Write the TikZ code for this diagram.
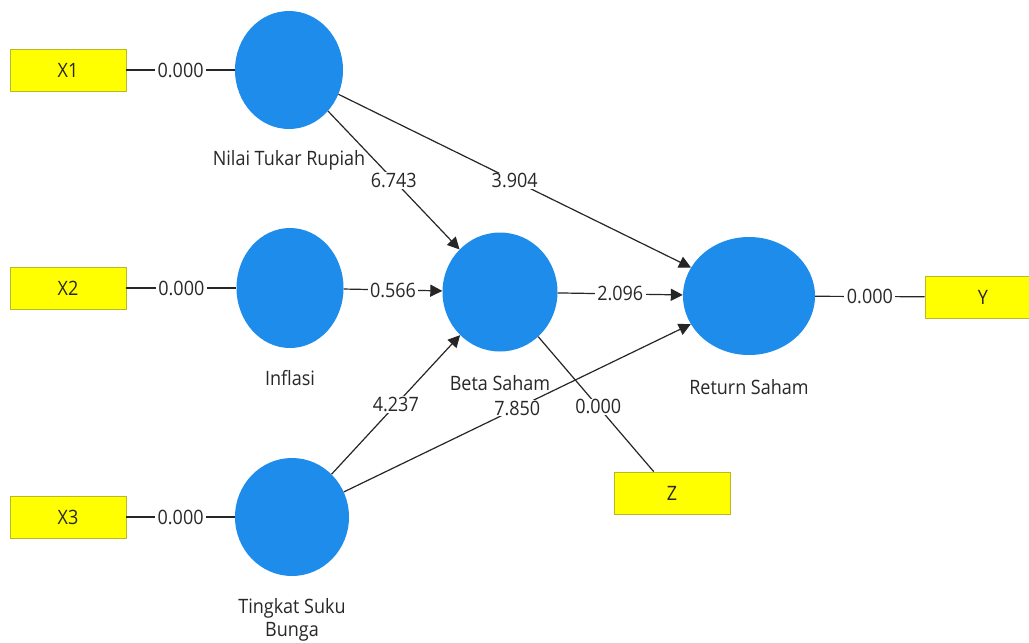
\documentclass[tikz,border=0pt]{standalone}
\usepackage{fontspec}
\setmainfont{Open Sans}
\usepackage{graphicx}
\usetikzlibrary{shapes.geometric,arrows.meta}
\definecolor{lvblue}{RGB}{30,140,235}
\definecolor{mvyellow}{RGB}{255,255,0}
\definecolor{mvborder}{RGB}{185,185,40}
\definecolor{txtgray}{RGB}{40,40,40}
\newcommand{\stxt}[1]{\scalebox{1}[1.1]{#1}}
\begin{document}
\begin{tikzpicture}[x=1pt,y=-1pt,
  latent/.style={ellipse, fill=lvblue, draw=none, inner sep=0pt},
  manifest/.style={rectangle, fill=mvyellow, draw=mvborder, line width=0.8pt,
    minimum width=116pt, minimum height=42pt, inner sep=0pt, text=txtgray,
    font=\fontsize{18}{21}\selectfont},
  lbl/.style={text=txtgray, font=\fontsize{18}{21}\selectfont, inner sep=0pt},
  conn/.style={draw=black!85, line width=1.2pt},
  arr/.style={conn, -{Triangle[length=12pt,width=12pt]}},
  val/.style={fill=white, text=txtgray, font=\fontsize{18}{21}\selectfont,
    inner xsep=2.5pt, inner ysep=1pt, pos=0.5}
]
\useasboundingbox (0,0) rectangle (1029,643);
\clip (0,0) rectangle (1029,643);
\fill[white] (0,0) rectangle (1029,643);

% manifest variables
\node[manifest] (x1) at (68,70) {\stxt{X1}};
\node[manifest] (x2) at (68,288) {\stxt{X2}};
\node[manifest] (x3) at (68,517) {\stxt{X3}};
\node[manifest] (yy) at (983,297) {\stxt{Y}};
\node[manifest] (zz) at (672,493) {\stxt{Z}};

% latent variables
\node[latent, minimum width=108pt, minimum height=118pt] (nilai) at (289,70) {};
\node[latent, minimum width=107pt, minimum height=120pt] (infl) at (290,288) {};
\node[latent, minimum width=114pt, minimum height=118pt] (ting) at (292,517) {};
\node[latent, minimum width=115pt, minimum height=119pt] (beta) at (500,292) {};
\node[latent, minimum width=132pt, minimum height=118pt] (ret) at (749,296) {};

% latent labels
\node[lbl] (lnilai) at (289,160) {\stxt{Nilai Tukar Rupiah}};
\node[lbl] (linfl) at (290,378) {\stxt{Inflasi}};
\node[lbl] (lting1) at (292,608) {\stxt{Tingkat Suku}};
\node[lbl] (lting2) at (292,632) {\stxt{Bunga}};
\node[lbl] (lbeta) at (500,383) {\stxt{Beta Saham}};
\node[lbl] (lret) at (749,387) {\stxt{Return Saham}};

% outer model
\draw[conn] (x1) -- node[val] {\stxt{0.000}} (nilai);
\draw[conn] (x2) -- node[val] {\stxt{0.000}} (infl);
\draw[conn] (x3) -- node[val] {\stxt{0.000}} (ting);
\draw[conn] (ret) -- node[val] {\stxt{0.000}} (yy);
\draw[conn] (beta) -- node[val, pos=0.52] {\stxt{0.000}} (zz);

% inner model
\draw[arr] (nilai) -- node[val] {\stxt{6.743}} (beta);
\draw[arr] (nilai) -- node[val] {\stxt{3.904}} (ret);
\draw[arr] (infl) -- node[val] {\stxt{0.566}} (beta);
\draw[arr] (beta) -- node[val] {\stxt{2.096}} (ret);
\draw[arr] (ting) -- node[val] {\stxt{4.237}} (beta);
\draw[arr] (ting) -- node[val] {\stxt{7.850}} (ret);
\end{tikzpicture}
\end{document}
